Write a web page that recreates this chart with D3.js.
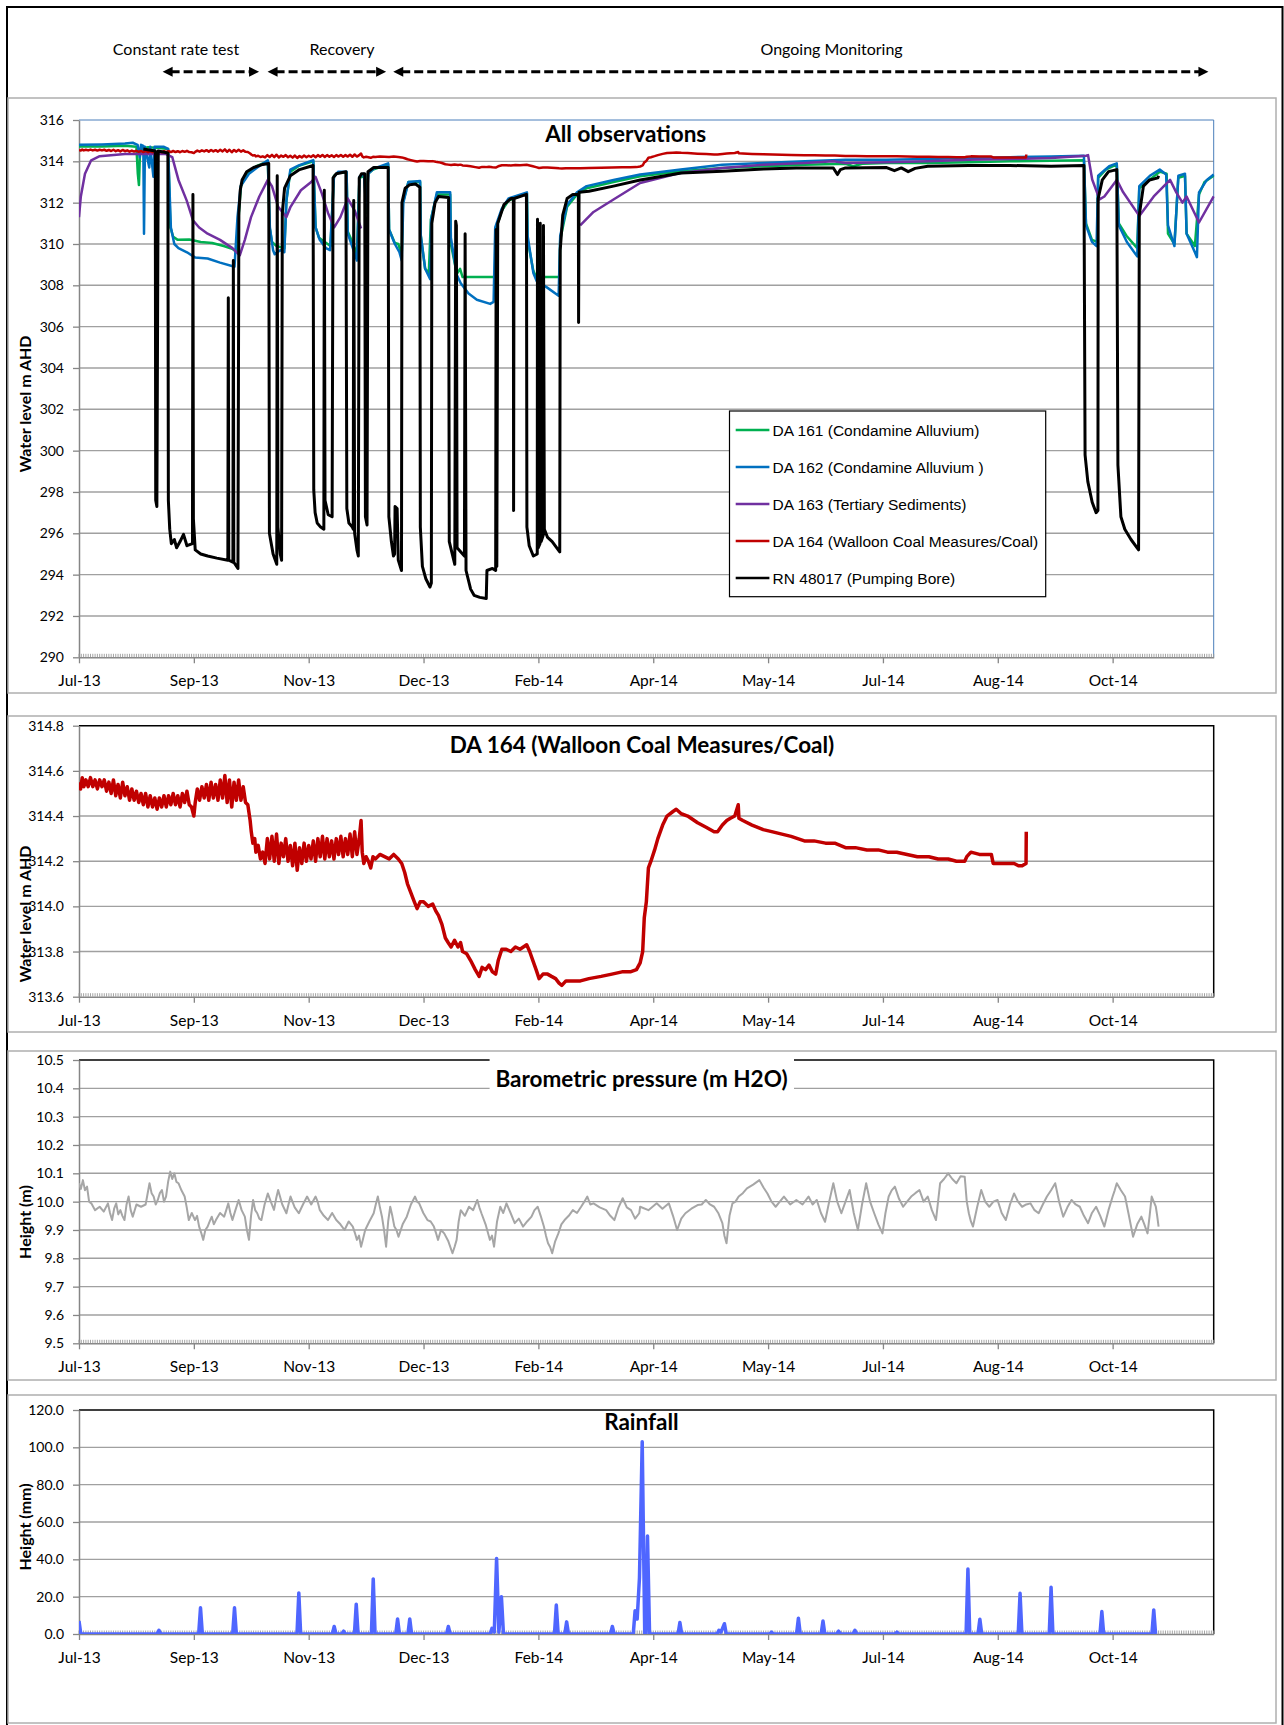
<!DOCTYPE html>
<html><head><meta charset="utf-8">
<script src="https://cdn.jsdelivr.net/npm/d3@7"></script>
<style>body{margin:0;background:#fff}svg{display:block}</style>
</head><body><svg id="c" width="1284" height="1725"></svg>
<script>
// ---------------- DATA ----------------
// x values are days since the axis start (25 Jul 2013)
const X_START = Date.UTC(2013, 6, 25);
const X_MAX_DAY = 494;
const X_TICK_DAYS = [0, 50, 100, 150, 200, 250, 300, 350, 400, 450];
const X_TICK_LABELS = ["Jul-13","Sep-13","Nov-13","Dec-13","Feb-14","Apr-14","May-14","Jul-14","Aug-14","Oct-14"];

const P1_Y_TICKS = [290,292,294,296,298,300,302,304,306,308,310,312,314,316];
const P2_Y_TICKS = [313.6,313.8,314.0,314.2,314.4,314.6,314.8];
const P3_Y_TICKS = [9.5,9.6,9.7,9.8,9.9,10.0,10.1,10.2,10.3,10.4,10.5];
const P4_Y_TICKS = [0,20,40,60,80,100,120];

const PHASE_LABELS = ["Constant rate test","Recovery","Ongoing Monitoring"];
const PHASE_START = [36.4, 82.1, 136.8];
const PHASE_END = [78.4, 133.7, 491.7];

const SERIES_NAMES = ["DA 161 (Condamine Alluvium)","DA 162 (Condamine Alluvium )","DA 163 (Tertiary Sediments)","DA 164 (Walloon Coal Measures/Coal)","RN 48017 (Pumping Bore)"];

const DA161 = [[0,314.72],[10,314.72],[20,314.75],[25,314.7],[25.6,313.4],[26.1,312.85],[26.6,314.6],[30,314.68],[35,314.65],[38.8,314.6],
[39.8,310.8],[41,310.35],[43,310.2],[48,310.22],[53,310.1],[58,310.05],[63,309.9],[67,309.75],[68.8,309.6],
[69.5,311.3],[70.5,312.8],[73,313.4],[77,313.75],[82.2,314.0],
[83,310.8],[84,310.1],[86,309.9],[89.4,309.8],[90.3,312.1],[92,313.5],[96,313.8],[102,314.0],
[103,310.8],[104.5,310.3],[107,310.1],[109.5,309.9],[111,313.3],[113,313.45],[116.5,313.45],
[117,310.6],[119,310.1],[121,309.5],[122.1,313.2],[124.4,313.3],[125,311.5],[125.8,313.4],[128,313.6],[134.6,313.85],
[135,310.7],[137.5,310.05],[139,310.0],[140.5,309.5],[141,312.0],[143.4,313.0],[148.5,313.0],
[148.8,310.4],[150.7,308.8],[152.3,308.6],[153.2,311.2],[155.8,312.4],[161.6,312.4],
[161.9,310.0],[164.5,308.55],[165.9,308.8],[167,308.4],[180.5,308.4],[181.2,308.45],
[181.8,310.8],[184,311.6],[187,312.1],[195,312.45],
[195.3,310.2],[197.8,308.7],[199,308.4],[209.2,308.4],
[209.5,310.2],[212.5,311.8],[216.8,312.4],[221,312.7],[232.7,313.0],[244.3,313.28],[262,313.52],[280,313.68],[298,313.76],[316,313.84],[333.7,313.88],[337,313.76],[341,313.88],[351.6,313.92],[369.5,313.92],[387.4,313.96],[405.3,314.0],[423.2,314.03],[437.5,314.05],
[438.4,311.0],[441,310.2],[443.3,310.1],[443.7,313.2],[447,313.6],[451.8,313.85],
[452.7,311.0],[456,310.4],[460.7,309.8],[461.6,312.7],[466,313.1],[470.5,313.5],[473.5,313.4],
[474.1,310.5],[476.9,310.0],[478.6,313.2],[481.5,313.3],[482.2,310.5],[485.8,309.9],[487.6,312.4],[490,313.0],[494,313.3]];

const DA162 = [[0,314.8],[10,314.82],[20,314.86],[23.4,314.9],[25.5,314.8],[26.5,314.2],[27,314.8],[28,314.75],[28.3,310.5],[28.7,314.7],[30.6,313.7],[31,314.7],[32.4,313.25],[32.9,314.7],[37,314.7],[38.8,314.6],
[40,310.8],[41.5,310.0],[43.3,309.8],[47,309.6],[50.5,309.35],[56,309.3],[61.4,309.1],[67.7,308.9],
[69,311.3],[70.4,312.8],[74,313.4],[77.6,313.7],[82.2,314.05],
[83.1,310.8],[84.5,309.7],[85.2,309.5],[87.6,309.7],[89.4,309.6],[90.3,312.1],[92,313.6],[95.7,313.8],[102,314.06],
[103,310.8],[104.8,310.2],[107.5,309.8],[109.3,309.7],[111,313.25],[112.9,313.5],[116.5,313.5],
[117,310.5],[119.2,309.8],[121,309.2],[122.1,313.25],[124,313.4],[125,311.8],[126,313.4],[128.3,313.65],[134.6,313.9],
[135,310.7],[137.5,310.0],[139.5,309.6],[140.5,309.2],[141.2,312.0],[143.4,313.0],[148.5,313.05],
[148.8,310.4],[150.7,308.8],[152.9,308.3],[153.3,311.2],[155.8,312.5],[161.6,312.5],
[161.9,310.3],[164.5,308.5],[166.2,308.1],[169.6,307.6],[173.2,307.3],[179,307.1],[180.5,307.2],
[181.2,310.8],[184,311.7],[187,312.2],[195,312.5],
[195.3,310.4],[197.8,308.6],[199.3,308.2],[203.7,307.9],[208.8,307.5],
[209.5,310.4],[212.5,311.9],[216.8,312.5],[221,312.8],[232.7,313.1],[244.3,313.36],[262,313.6],[280,313.84],[298,313.92],[316,314.0],[333.7,314.08],[351.6,314.08],[369.5,314.11],[387.4,314.16],[405.3,314.2],[423.2,314.23],[437.5,314.27],
[438.4,310.9],[441,310.1],[443,309.9],[443.7,313.3],[448.5,313.76],[451.8,313.9],
[452.7,310.9],[456.2,310.1],[460.7,309.4],[461.6,312.8],[466.2,313.3],[470.5,313.6],[473.3,313.36],
[474.1,310.9],[476.9,309.9],[478.6,313.3],[481.5,313.4],[482.2,310.5],[485.8,309.6],[486.7,309.36],[487.6,312.5],[491,313.1],[494,313.36]];

const DA163 = [[0,311.3],[0.8,312.3],[2.6,313.4],[5.3,314.05],[9,314.25],[20,314.35],[37.9,314.35],[40.6,314.2],[43.3,313.1],[46.9,312.1],[49.6,311.15],[52.3,310.8],[56,310.5],[61.4,310.2],[66.8,309.8],[70,309.45],[72.2,310.2],[74.9,311.3],[78.5,312.3],[82.2,313.1],[84,312.8],[86.7,311.8],[90.3,311.3],[92.1,311.8],[96.6,312.6],[101.1,313.0],[103,313.25],[105.7,312.45],[108.4,311.5],[111.1,310.8],[113.8,311.3],[117,312.2],[120.1,311.6],[122.8,310.75],
[123,null],
[218.2,310.9],[224,311.55],[232.7,312.15],[244.3,312.95],[262,313.44],[280,313.68],[298,313.84],[316,313.92],[328.4,314.0],[333.7,313.92],[351.6,313.95],[369.5,314.0],[387.4,314.08],[405.3,314.11],[423.2,314.16],[438.4,314.27],[439.3,314.3],
[441.1,313.12],[444.3,312.16],[446.4,312.3],[451.8,313.1],[454.6,312.5],[461.6,311.36],[467.9,312.3],[475,313.1],[477.7,312.5],[480.4,312.0],[482.2,312.3],[487.6,311.04],[494,312.3]];

const DA164 = [[0,314.55],[0.7,314.52],[1.4,314.57],[2.1,314.53],[3,314.56],[4,314.53],[5,314.57],[6,314.53],[7,314.56],[8,314.52],[9,314.56],[10,314.53],[11,314.56],[12,314.51],[13,314.55],[14,314.5],[15,314.56],[16,314.49],[17,314.54],[18,314.48],[19,314.55],[20,314.49],[21,314.53],[22,314.47],[23,314.52],[24,314.47],[25,314.51],[26,314.46],[27,314.5],[28,314.45],[29,314.5],[30,314.44],[31,314.49],[32,314.44],[33,314.48],[34,314.43],[35,314.48],[36,314.44],[37,314.49],[38,314.44],[39,314.49],[40,314.45],[41,314.5],[42,314.45],[43,314.49],[44,314.44],[45,314.5],[46,314.46],[47,314.51],[48,314.45],[49,314.44],[50,314.4],[50.6,314.46],[51.5,314.52],[52.5,314.47],[53.5,314.53],[54.5,314.48],[55.5,314.54],[56.5,314.47],[57.5,314.55],[58.5,314.48],[59.5,314.54],[60.5,314.47],[61.5,314.56],[62.5,314.48],[63.5,314.58],[64.5,314.46],[65.5,314.56],[66.5,314.44],[67.5,314.55],[68.5,314.47],[69.5,314.56],[70.5,314.47],[71.5,314.53],[72.5,314.46],[73.5,314.45],[74.5,314.38],[75,314.33],[75.7,314.28],[76.5,314.3],[77,314.24],[78,314.27],[79,314.21],[80,314.24],[81,314.19],[82,314.3],[83,314.21],[84,314.31],[85,314.2],[86,314.32],[87,314.19],[88,314.28],[89,314.22],[90,314.3],[91,314.2],[92,314.27],[93,314.18],[94,314.28],[95,314.16],[96,314.26],[97,314.19],[98,314.28],[99,314.2],[100,314.27],[101,314.21],[102,314.29],[103,314.2],[104,314.3],[105,314.22],[106,314.31],[107,314.21],[108,314.3],[109,314.22],[110,314.29],[111,314.21],[112,314.3],[113,314.23],[114,314.31],[115,314.22],[116,314.3],[117,314.23],[118,314.32],[119,314.22],[120,314.33],[121,314.23],[122,314.3],[122.8,314.38],[123.3,314.24],[124,314.19],[125,314.22],[126,314.2],[127,314.17],[128,314.22],[129,314.21],[131,314.23],[133,314.22],[135,314.21],[137,314.23],[139,314.21],[140.5,314.19],[141.8,314.15],[143,314.1],[144.5,314.06],[146,314.02],[147.2,313.99],[148.5,314.02],[150,314.02],[152,314.0],[154,314.01],[155.3,313.98],[156.5,313.96],[158,313.92],[159.5,313.86],[160.7,313.84],[162,313.82],[163.5,313.85],[165,313.82],[166.1,313.84],[167,313.8],[168.8,313.79],[170.5,313.76],[172.5,313.72],[174.2,313.69],[175.5,313.73],[177,313.72],[178.5,313.74],[180,313.71],[181.4,313.7],[182.5,313.76],[184.1,313.81],[186,313.81],[188,313.8],[190,313.82],[192,313.81],[194.9,313.83],[196.2,313.8],[197.6,313.76],[199,313.72],[200.3,313.68],[202,313.7],[204,313.7],[205.7,313.69],[207.5,313.68],[209,313.66],[210.2,313.65],[212,313.67],[215,313.67],[218.3,313.67],[222,313.68],[227.3,313.69],[232,313.7],[236.4,313.71],[240,313.71],[242.7,313.72],[244.3,313.75],[245.4,313.8],[246.1,313.95],[247,314.02],[247.9,314.17],[249,314.2],[250.6,314.25],[252,314.3],[254.1,314.36],[256,314.4],[258.6,314.42],[260,314.43],[262.2,314.41],[265,314.4],[269.3,314.37],[273,314.35],[276.5,314.33],[278,314.33],[280.1,314.36],[282,314.38],[283.6,314.39],[285.5,314.4],[287,314.45],[287.3,314.39],[289,314.38],[293,314.36],[297.9,314.34],[302,314.33],[306,314.32],[310,314.31],[315.8,314.29],[320,314.29],[325,314.28],[329,314.28],[333.7,314.26],[338,314.26],[343,314.25],[348,314.25],[352,314.24],[356,314.24],[360.5,314.23],[365,314.22],[370,314.22],[374,314.21],[378.4,314.21],[382,314.2],[385.6,314.2],[386.5,314.22],[388.3,314.24],[392,314.23],[397.2,314.23],[398,314.19],[402,314.19],[407.1,314.19],[409,314.18],[410.6,314.18],[412.3,314.19],[412.4,314.33]];

const RN48017 = [[28,314.6],[33.2,314.5],[33.4,297.6],[33.9,297.3],[34.5,314.5],[38.7,314.4],
[38.9,297.6],[39.5,296.2],[40.2,295.5],[41.5,295.7],[42.5,295.3],[44,295.6],[45.5,295.95],[47,295.4],[49.4,295.5],
[49.6,312.4],[49.8,296.7],[50.6,295.2],[53,295.0],[56,294.9],[60,294.8],[64.8,294.7],
[65,307.4],[65.2,294.7],[67,294.6],[67.2,309.2],[67.4,294.6],[69.2,294.3],
[69.6,311.5],[70.2,312.6],[71,313.1],[73,313.5],[76,313.7],[80,313.85],[82.6,313.9],
[82.9,296.0],[84.5,295.0],[86.1,294.5],[86.3,313.3],[86.6,296.3],[87.6,295.0],[88.2,294.7],
[88.5,311.5],[89.5,312.7],[92,313.3],[96,313.6],[101.9,313.8],
[102.2,298.1],[102.8,297.0],[103.7,296.5],[105.2,296.3],[106.6,296.2],[106.8,312.6],[107.1,297.6],[108.5,296.9],[110.2,296.8],
[110.6,313.2],[112,313.4],[116.2,313.5],
[116.6,297.2],[117.5,296.5],[119,296.3],[119.4,296.2],[119.6,312.1],[120,296.0],[121,295.2],[121.6,294.9],
[122,313.2],[123,313.4],[124.4,313.4],[124.7,296.8],[125.4,296.4],[125.8,313.5],[128.3,313.7],[134.6,313.7],
[134.9,296.8],[136,295.6],[136.9,294.9],[137.4,295.0],[137.6,297.3],[138.5,297.2],[139,294.7],[140.4,294.2],
[140.6,312.0],[142,312.7],[144,312.87],[146.5,312.9],[148.4,312.75],
[148.6,296.3],[149.5,294.4],[151,293.8],[152.8,293.4],[153.4,293.6],
[153.6,311.0],[155,312.0],[156.5,312.3],[160.9,312.25],
[161.2,295.6],[163.6,294.5],[164.0,311.1],[164.3,310.9],[164.6,295.3],[167.8,294.9],[168.1,310.5],[168.5,294.2],[170.5,293.3],[172,293.0],[174.5,292.9],[177.3,292.85],[177.6,294.2],[180,294.3],[181.4,294.2],
[181.6,310.7],[181.9,294.4],[182.3,311.0],[185,311.9],[188,312.2],[189.1,312.2],[189.2,297.1],[189.4,312.2],[193.5,312.35],[194.8,312.4],
[195.0,296.3],[196,295.4],[197.8,294.9],[199.5,295.0],[199.6,311.2],[199.9,295.3],[200.7,295.5],[200.8,311.0],[201.2,295.6],[202.1,295.9],[202.2,310.9],[202.6,296.2],[204,295.8],[206,295.6],[208,295.3],[209.3,295.1],
[209.5,309.7],[210.6,311.4],[212.5,312.2],[215,312.4],[217.4,312.4],[217.5,306.2],[217.7,312.5],[222,312.55],[232.7,312.8],[244.3,313.1],[262.2,313.44],[280.1,313.52],[298,313.63],[312.3,313.68],[328.4,313.68],[330.2,313.36],[331.5,313.6],[333.7,313.68],[351.6,313.7],[355,313.55],[358,313.68],[361,313.5],[364,313.66],[369.5,313.76],[387.4,313.8],[405.3,313.8],[423.2,313.76],[437.5,313.8],
[438.0,299.8],[439.2,298.5],[441.1,297.5],[442.8,297.0],[443.6,297.1],
[443.7,312.2],[445.5,313.1],[448.2,313.5],[451.8,313.6],
[452.3,299.3],[453.6,296.8],[455.3,296.2],[458,295.7],[461.3,295.2],
[461.6,311.4],[463.4,312.8],[466.1,313.1],[469.7,313.2],[470,313.3]];

const BARO = [[0,10.065],[0.8,10.045],[1.7,10.076],[2.6,10.04],[3.5,10.053],[4.4,10.0],[5.35,9.994],[7,9.97],[9,9.982],[10.8,9.965],[12.6,9.994],[13.5,9.96],[14.4,9.935],[15.3,9.975],[16.2,9.994],[17.1,9.955],[18,9.97],[18.9,9.95],[19.8,9.935],[20.7,9.99],[21.6,10.018],[22.5,9.97],[23.4,9.947],[25,9.99],[27,9.982],[29,9.99],[30.7,10.065],[31.6,10.03],[32.5,10.018],[33.4,9.99],[34.3,10.006],[35.2,10.03],[36.1,10.041],[37,10.0],[37.9,10.018],[38.8,10.07],[39.7,10.106],[40.6,10.08],[41.5,10.1],[42.4,10.07],[43.3,10.065],[44.6,10.04],[46,10.018],[46.9,9.98],[47.8,9.935],[49.1,9.96],[50.5,9.935],[51.4,9.95],[52.3,9.912],[53.2,9.89],[54.1,9.865],[55,9.9],[56,9.912],[56.9,9.93],[57.8,9.947],[58.7,9.92],[59.6,9.935],[61.4,9.96],[63.2,9.947],[64.1,9.97],[65,9.994],[65.9,9.96],[66.8,9.935],[68.1,9.97],[69.5,10.006],[70.8,9.97],[72.2,9.947],[73.1,9.9],[74,9.865],[74.9,9.95],[75.8,10.006],[76.7,9.97],[77.6,9.959],[78.5,9.94],[79.4,9.935],[80.8,9.99],[82.2,10.029],[83.5,10.0],[84.9,9.971],[85.8,10.01],[86.7,10.041],[88.5,9.99],[90.3,9.959],[91.2,9.99],[92.1,10.018],[93.9,9.98],[95.7,9.959],[97.5,9.99],[99.3,10.018],[101.1,9.99],[103,10.018],[103.9,10.0],[104.8,9.971],[106.6,9.95],[108.4,9.935],[110.2,9.96],[112,9.935],[113.8,9.92],[115.6,9.9],[117.4,9.93],[119.2,9.912],[120.1,9.89],[121,9.865],[121.9,9.88],[122.8,9.841],[123.7,9.87],[124.6,9.9],[126.4,9.93],[128.3,9.959],[129.2,9.99],[130.1,10.018],[131,9.98],[131.9,9.947],[132.8,9.9],[133.7,9.841],[134.6,9.93],[135.5,9.982],[136.4,9.95],[137.3,9.912],[138.2,9.9],[139.1,9.876],[140.9,9.92],[142.7,9.947],[144.5,9.99],[146.3,10.018],[147.2,10.0],[148.1,9.994],[149.9,9.96],[151.7,9.935],[153.1,9.93],[154.5,9.912],[155.4,9.89],[156.3,9.865],[157.6,9.9],[159,9.888],[160.8,9.86],[162.6,9.818],[163.5,9.84],[164.4,9.865],[165.3,9.93],[166.2,9.97],[168,9.95],[169.8,9.982],[171.6,9.97],[173.4,10.006],[174.3,9.98],[175.2,9.959],[177,9.92],[178.9,9.865],[179.8,9.88],[180.7,9.841],[182,9.93],[183.4,9.982],[184.7,9.96],[186.1,9.994],[187.9,9.96],[189.7,9.924],[191.5,9.94],[193.3,9.912],[195.1,9.93],[197,9.947],[198.3,9.97],[199.7,9.982],[201,9.95],[202.4,9.912],[203.3,9.88],[204.2,9.853],[205.1,9.84],[206,9.818],[207.3,9.86],[208.7,9.888],[210,9.92],[211.4,9.935],[213.2,9.95],[215,9.97],[216.8,9.96],[218.6,9.982],[220,10.0],[221.3,10.018],[222.6,9.99],[224,9.994],[226.7,9.98],[229.5,9.97],[231.3,9.95],[233.1,9.935],[234.9,9.98],[236.7,10.012],[238.5,9.98],[240.3,9.97],[242.1,9.94],[243.9,9.959],[244.3,9.982],[247.9,9.97],[251.5,9.994],[254,9.975],[256.8,9.994],[258.6,9.95],[260.4,9.9],[262.2,9.94],[264,9.959],[266.6,9.975],[269.3,9.988],[271.1,9.99],[272.9,10.006],[274.7,9.99],[276.5,9.982],[278.3,9.96],[280.1,9.924],[281,9.88],[281.9,9.853],[283.2,9.95],[284.5,9.994],[285.8,10.0],[287.2,10.018],[289,10.03],[290.8,10.047],[293.5,10.06],[296.2,10.076],[298,10.05],[299.7,10.029],[301.5,10.0],[303.3,9.982],[305.1,10.0],[306.9,10.018],[309.6,9.99],[312.3,10.006],[315,9.99],[317.6,10.018],[319.4,9.99],[321.2,10.006],[323,9.96],[324.8,9.929],[326.6,10.0],[328.4,10.065],[330.1,10.0],[331.9,9.959],[333.7,10.0],[335.5,10.041],[337.3,9.96],[339.1,9.9],[340.9,9.99],[342.7,10.065],[344.4,10.0],[346.2,9.959],[348,9.92],[349.8,9.888],[351.1,9.96],[352.5,10.018],[353.8,10.04],[355.2,10.053],[357,10.01],[358.8,9.982],[360.5,10.0],[362.3,10.018],[364.1,10.03],[365.9,10.041],[367.7,10.0],[369.5,10.018],[371.3,9.97],[373.1,9.935],[374,10.0],[374.9,10.065],[376.6,10.08],[378.4,10.1],[380.2,10.08],[382,10.065],[383.8,10.09],[385.6,10.088],[386.5,10.0],[387.4,9.959],[388.3,9.93],[389.2,9.912],[391,9.98],[392.8,10.041],[394.5,10.0],[396.3,9.982],[398.1,10.0],[399.9,10.006],[401.7,9.96],[403.5,9.935],[405.3,9.99],[407.1,10.029],[408.8,10.0],[410.6,9.982],[412.4,9.99],[414.2,9.994],[416,9.97],[417.8,9.959],[419.6,9.99],[421.4,10.018],[423.2,10.04],[425,10.065],[426.7,10.0],[428.5,9.947],[430.3,9.98],[432.1,10.006],[433.9,9.99],[435.7,9.982],[437.5,9.95],[439.3,9.924],[441,9.96],[442.8,9.982],[444.6,9.95],[446.4,9.912],[448.2,9.97],[450,10.018],[450.9,10.04],[451.8,10.065],[453.6,10.04],[455.4,10.018],[457.1,9.95],[458.9,9.876],[460.7,9.92],[462.5,9.947],[463.8,9.92],[465.2,9.888],[466.1,9.95],[467,10.018],[467.9,10.0],[468.8,9.982],[469.4,9.95],[470,9.912]];

const RAIN = [[0,7],[0.8,0],[34,0],[34.8,2],[35.6,0],[52.1,0],[52.9,14],[53.7,0],[66.9,0],[67.7,14],[68.5,0],[94.9,0],[95.7,22],[96.5,0],[110.3,0],[111.1,4],[111.9,0],[114.4,0],[115.2,1.5],[116,0],[119.9,0],[120.7,16],[121.5,0],[127.3,0],[128.1,29.5],[128.9,0],[137.9,0],[138.7,8],[139.5,0],[143.2,0],[144,8],[144.8,0],[160,0],[160.8,4],[161.6,0],[179,0],[179.8,3],[180.8,1],[181.8,40.5],[182.8,1],[183.9,20],[184.8,0],[207,0],[207.8,15.5],[208.6,0],[211.5,0],[212.3,6.5],[213.1,0],[231.4,0],[232.2,4],[233,0],[241.3,0],[242.1,12.5],[243,8],[244,30],[245.2,103],[246.3,0],[246.8,0],[247.5,52.5],[248.4,0],[260.8,0],[261.6,6.2],[262.4,0],[277.8,0],[278.6,2],[279.5,1],[281,5.5],[281.8,0],[300.7,0],[301.5,1],[302.3,0],[312.4,0],[313.2,8.4],[314,0],[323.1,0],[323.9,7],[324.7,0],[329.9,0],[330.7,1.5],[331.5,0],[337,0],[337.8,2],[338.6,0],[355.3,0],[356.1,1],[356.9,0],[386.2,0],[387,34.8],[387.8,0],[391.4,0],[392.2,7.9],[393,0],[408.9,0],[409.7,21.8],[410.5,0],[422.4,0],[423.2,25],[424,0],[444.5,0],[445.3,12],[446.1,0],[467.1,0],[467.9,12.9],[468.7,0],[469.3,0]];

// ---------------- DRAWING ----------------
const svg = d3.select("#c");
const CAL = "Lato, 'Open Sans', sans-serif";
const ARIAL = "'Liberation Sans', Arial, sans-serif";
const toDate = d => new Date(X_START + d * 864e5);
const L = 79, R = 1213.7;
const x = d3.scaleUtc().domain([toDate(0), toDate(X_MAX_DAY)]).range([L, R]);

// outer border
svg.append("rect").attr("x",7).attr("y",7).attr("width",1275.5).attr("height",1740)
  .attr("fill","none").attr("stroke","#000").attr("stroke-width",2);

// phase annotations
const PHASE_TEXT_X = [176, 342, 831.6];
const arrowY = 71.7;
PHASE_LABELS.forEach((t,i)=>{
  svg.append("text").attr("x",PHASE_TEXT_X[i]).attr("y",55.3).attr("text-anchor","middle")
    .attr("font-family",CAL).attr("font-size",16).attr("fill","#000").text(t);
  const x1 = x(toDate(PHASE_START[i])), x2 = x(toDate(PHASE_END[i]));
  svg.append("line").attr("x1",x1+8).attr("x2",x2-8).attr("y1",arrowY).attr("y2",arrowY)
    .attr("stroke","#000").attr("stroke-width",3).attr("stroke-dasharray","9,4");
  svg.append("path").attr("d",`M${x1},${arrowY}L${x1+10},${arrowY-5}L${x1+10},${arrowY+5}Z`).attr("fill","#000");
  svg.append("path").attr("d",`M${x2},${arrowY}L${x2-10},${arrowY-5}L${x2-10},${arrowY+5}Z`).attr("fill","#000");
});

const PANELS = [
  {top:120, bottom:657.3, fTop:98, fBot:693, domain:[290,316], ticks:P1_Y_TICKS, fmt:d3.format("d"),
   border:"#4A7EBB", bw:1, yTitle:"Water level m AHD", yTitleY:404, title:"All observations", titleX:625.7, titleY:141.7},
  {top:725.7, bottom:996.7, fTop:716, fBot:1032, domain:[313.6,314.8], ticks:P2_Y_TICKS, fmt:d3.format(".1f"),
   border:"#000", bw:1.5, yTitle:"Water level m AHD", yTitleY:914, title:"DA 164 (Walloon Coal Measures/Coal)", titleX:642, titleY:752.7},
  {top:1060, bottom:1343.3, fTop:1051, fBot:1380, domain:[9.5,10.5], ticks:P3_Y_TICKS, fmt:d3.format(".1f"),
   border:"#000", bw:1.5, yTitle:"Height  (m)", yTitleY:1222, title:"Barometric pressure (m H2O)", titleX:641.5, titleY:1086.7, titleBox:[489.6,1056,304.4,37]},
  {top:1410, bottom:1634, fTop:1395, fBot:1723, domain:[0,120], ticks:P4_Y_TICKS, fmt:d3.format(".1f"),
   border:"#000", bw:1.5, yTitle:"Height  (mm)", yTitleY:1527, title:"Rainfall", titleX:641.4, titleY:1430}
];

const MINOR_DAYS = d3.range(0, X_MAX_DAY + 1, 1);

function makePanel(p, idx){
  const g = svg.append("g");
  const y = d3.scaleLinear().domain(p.domain).range([p.bottom, p.top]);
  g.append("rect").attr("x",8).attr("y",p.fTop).attr("width",1268).attr("height",p.fBot-p.fTop)
    .attr("fill","#fff").attr("stroke","#AFAFAF").attr("stroke-width",1.5);
  g.selectAll(null).data(p.ticks.slice(1, -1)).join("line")
    .attr("x1",L).attr("x2",R).attr("y1",d=>y(d)).attr("y2",d=>y(d))
    .attr("stroke","#A0A0A0").attr("stroke-width",1.4);
  g.append("path").attr("d",`M${L},${p.top}H${R}V${p.bottom}`).attr("fill","none")
    .attr("stroke",p.border).attr("stroke-width",p.bw);
  const ya = g.append("g").attr("transform",`translate(${L},0)`)
    .call(d3.axisLeft(y).tickValues(p.ticks).tickFormat(p.fmt).tickSize(6).tickPadding(9).tickSizeOuter(0));
  ya.select(".domain").attr("stroke","#868686").attr("stroke-width",1.5);
  ya.selectAll(".tick line").attr("stroke","#868686").attr("stroke-width",1.3);
  ya.selectAll(".tick text").attr("font-family",CAL).attr("font-size",14).attr("fill","#000");
  const xa = g.append("g").attr("transform",`translate(0,${p.bottom})`)
    .call(d3.axisBottom(x).tickValues(X_TICK_DAYS.map(toDate)).tickFormat((d,i)=>X_TICK_LABELS[i])
      .tickSize(6).tickPadding(12).tickSizeOuter(0));
  xa.select(".domain").attr("stroke","#868686").attr("stroke-width",1.5);
  xa.selectAll(".tick line").attr("stroke","#868686").attr("stroke-width",1.3);
  xa.selectAll(".tick text").attr("font-family",CAL).attr("font-size",15.5).attr("fill","#000");
  g.append("g").selectAll("line").data(MINOR_DAYS).join("line")
    .attr("x1",d=>x(toDate(d))).attr("x2",d=>x(toDate(d)))
    .attr("y1",p.bottom).attr("y2",p.bottom-3.5).attr("stroke","#9A9A9A").attr("stroke-width",0.9);
  const cid = "clip"+idx;
  svg.append("clipPath").attr("id",cid).append("rect")
    .attr("x",L).attr("y",p.top-3).attr("width",R-L+1).attr("height",p.bottom-p.top+3);
  const plot = svg.append("g").attr("clip-path",`url(#${cid})`);
  svg.append("text").attr("transform",`translate(31,${p.yTitleY}) rotate(-90)`)
    .attr("text-anchor","middle").attr("font-family",CAL).attr("font-weight","bold")
    .attr("font-size",16).attr("fill","#000").text(p.yTitle);
  return {y, g, plot};
}

const panels = PANELS.map(makePanel);

function drawLine(panel, data, color, width){
  const line = d3.line().defined(d=>d[1]!=null)
    .x(d=>x(toDate(d[0]))).y(d=>panel.y(d[1]));
  panel.plot.append("path").datum(data).attr("d",line).attr("fill","none")
    .attr("stroke",color).attr("stroke-width",width).attr("stroke-linejoin","round");
}

const COLORS = ["#00B050","#0070C0","#7030A0","#C00000","#000000"];
drawLine(panels[0], DA161, COLORS[0], 2.5);
drawLine(panels[0], DA162, COLORS[1], 2.5);
drawLine(panels[0], DA163, COLORS[2], 2.5);
drawLine(panels[0], DA164, COLORS[3], 2.5);
drawLine(panels[0], RN48017, COLORS[4], 3);
drawLine(panels[1], DA164, COLORS[3], 3.5);
drawLine(panels[2], BARO, "#A6A6A6", 2);
drawLine(panels[3], RAIN, "#4F66FF", 3.5);

PANELS.forEach((p,i)=>{
  if (p.titleBox) {
    svg.append("rect").attr("x",p.titleBox[0]).attr("y",p.titleBox[1]).attr("width",p.titleBox[2])
      .attr("height",p.titleBox[3]).attr("fill","#fff");
  }
  svg.append("text").attr("x",p.titleX).attr("y",p.titleY).attr("text-anchor","middle")
    .attr("font-family",CAL).attr("font-weight","bold").attr("font-size",22.5).attr("fill","#000").text(p.title);
});

const lg = svg.append("g");
lg.append("rect").attr("x",729.5).attr("y",411).attr("width",316.2).attr("height",185.7)
  .attr("fill","#fff").attr("stroke","#000").attr("stroke-width",1.2);
SERIES_NAMES.forEach((n,i)=>{
  const cy = 430 + i*37;
  lg.append("line").attr("x1",735.7).attr("x2",769.4).attr("y1",cy).attr("y2",cy)
    .attr("stroke",COLORS[i]).attr("stroke-width",2.5);
  lg.append("text").attr("x",772.6).attr("y",cy+5.5).attr("font-family",ARIAL)
    .attr("font-size",15.5).attr("fill","#000").text(n);
});
</script></body></html>
